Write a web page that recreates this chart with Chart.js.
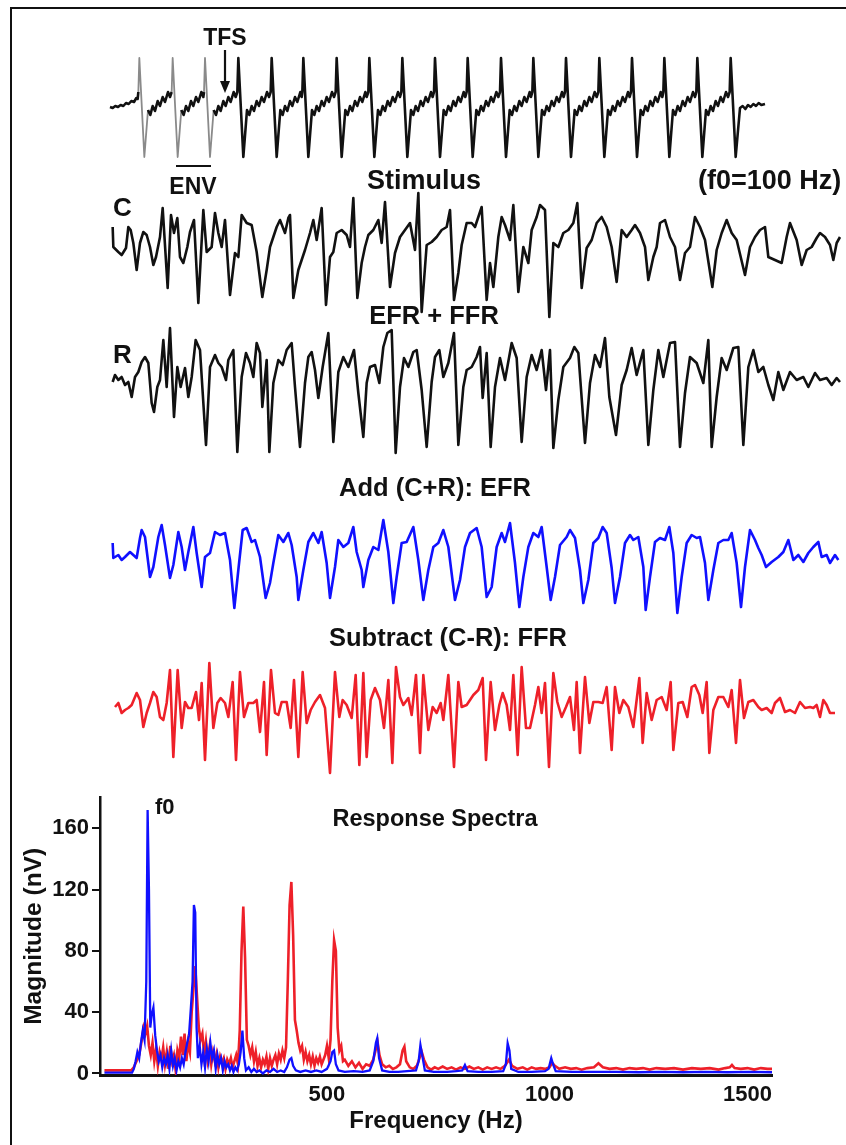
<!DOCTYPE html>
<html>
<head>
<meta charset="utf-8">
<title>Stimulus, responses and response spectra</title>
<script src="https://cdn.jsdelivr.net/npm/chart.js@4.4.1/dist/chart.umd.min.js"></script>
<style>
  html, body { margin: 0; padding: 0; background: #fff; }
  #page { position: relative; width: 846px; height: 1145px; overflow: hidden;
          font-family: "Liberation Sans", Arial, sans-serif; font-weight: bold; color: #111; }
  #frame { position: absolute; left: 10px; top: 7px; width: 900px; height: 1200px;
           border-left: 2px solid #111; border-top: 2px solid #111; }
  canvas { position: absolute; }
  .lbl { position: absolute; line-height: 1; white-space: nowrap; }
  .ctr { transform: translateX(-50%); }
</style>
</head>
<body>
<div id="page">
  <div id="frame"></div>

  <canvas id="stim" width="760" height="170" style="left:90px;top:19px"></canvas>
  <canvas id="cond" width="760" height="170" style="left:90px;top:155px"></canvas>
  <canvas id="rare" width="760" height="170" style="left:90px;top:293px"></canvas>
  <canvas id="efr" width="760" height="170" style="left:90px;top:465px"></canvas>
  <canvas id="ffr" width="760" height="170" style="left:90px;top:623px"></canvas>
  <canvas id="spectra" width="846" height="365" style="left:0;top:780px"></canvas>

  <svg style="position:absolute;left:0;top:0" width="846" height="220">
    <line x1="225" y1="50" x2="225" y2="84" stroke="#111" stroke-width="2.2"/>
    <polygon points="220,81 230,81 225,93" fill="#111"/>
    <line x1="176" y1="166" x2="211" y2="166" stroke="#111" stroke-width="2.2"/>
  </svg>

  <div class="lbl ctr" style="left:225px;top:26px;font-size:23px">TFS</div>
  <div class="lbl ctr" style="left:193px;top:175px;font-size:23px">ENV</div>
  <div class="lbl ctr" style="left:424px;top:167px;font-size:27px">Stimulus</div>
  <div class="lbl" style="left:698px;top:167px;font-size:27px">(f0=100 Hz)</div>
  <div class="lbl" style="left:113px;top:194px;font-size:26px">C</div>
  <div class="lbl ctr" style="left:434px;top:303px;font-size:25.5px">EFR + FFR</div>
  <div class="lbl" style="left:113px;top:341px;font-size:26px">R</div>
  <div class="lbl ctr" style="left:435px;top:475px;font-size:25.5px">Add (C+R): EFR</div>
  <div class="lbl ctr" style="left:448px;top:625px;font-size:25.5px">Subtract (C-R): FFR</div>
  <div class="lbl" style="left:155px;top:796px;font-size:22px">f0</div>
  <div class="lbl ctr" style="left:435px;top:807px;font-size:23.5px">Response Spectra</div>
</div>

<script>
// time in ms, amplitude in arbitrary units (positive up)
var stimulusWave = [
  [0,-0.3],[0.8,-0.4],[1.6,-0.2],[2.4,-0.3],[3.2,-0.1],[4.0,-0.2],[4.8,0.1],[5.6,0.0],[6.4,0.3],[7.2,0.2],[7.9,0.6],[8.3,0.5],
  [8.5,1.2],[8.8,4.6],[10.3,-5.3],[11.4,-0.6],[12.1,-1.1],[12.8,-0.2],[13.5,-0.7],[14.3,0.3],[15.0,-0.2],[15.8,0.7],[16.5,0.2],[17.4,1.2],[18.0,0.7],
  [18.5,1.2],[18.8,4.6],[20.3,-5.3],[21.4,-0.6],[22.1,-1.1],[22.8,-0.2],[23.5,-0.7],[24.3,0.3],[25.0,-0.2],[25.8,0.7],[26.5,0.2],[27.4,1.2],[28.0,0.7],
  [28.2,1.2],[28.5,4.6],[30.0,-5.3],[31.1,-0.6],[31.8,-1.1],[32.5,-0.2],[33.2,-0.7],[34.0,0.3],[34.7,-0.2],[35.5,0.7],[36.2,0.2],[37.1,1.2],[37.7,0.7],
  [38.2,1.2],[38.5,4.6],[40.0,-5.3],[41.1,-0.6],[41.8,-1.1],[42.5,-0.2],[43.2,-0.7],[44.0,0.3],[44.7,-0.2],[45.5,0.7],[46.2,0.2],[47.1,1.2],[47.7,0.7],
  [48.2,1.2],[48.5,4.6],[50.0,-5.3],[51.1,-0.6],[51.8,-1.1],[52.5,-0.2],[53.2,-0.7],[54.0,0.3],[54.7,-0.2],[55.5,0.7],[56.2,0.2],[57.1,1.2],[57.5,0.7],
  [57.7,1.2],[58.0,4.6],[59.5,-5.3],[60.6,-0.6],[61.3,-1.1],[62.0,-0.2],[62.7,-0.7],[63.5,0.3],[64.2,-0.2],[65.0,0.7],[65.7,0.2],[66.6,1.2],[67.2,0.7],
  [67.7,1.2],[68.0,4.6],[69.5,-5.3],[70.6,-0.6],[71.3,-1.1],[72.0,-0.2],[72.7,-0.7],[73.5,0.3],[74.2,-0.2],[75.0,0.7],[75.7,0.2],[76.6,1.2],[77.0,0.7],
  [77.5,1.2],[77.8,4.6],[79.3,-5.3],[80.4,-0.6],[81.1,-1.1],[81.8,-0.2],[82.5,-0.7],[83.3,0.3],[84.0,-0.2],[84.8,0.7],[85.5,0.2],[86.4,1.2],[87.0,0.7],
  [87.4,1.2],[87.7,4.6],[89.2,-5.3],[90.3,-0.6],[91.0,-1.1],[91.7,-0.2],[92.4,-0.7],[93.2,0.3],[93.9,-0.2],[94.7,0.7],[95.4,0.2],[96.3,1.2],[96.8,0.7],
  [97.2,1.2],[97.5,4.6],[99.0,-5.3],[100.1,-0.6],[100.8,-1.1],[101.5,-0.2],[102.2,-0.7],[103.0,0.3],[103.7,-0.2],[104.5,0.7],[105.2,0.2],[106.1,1.2],[106.6,0.7],
  [107.0,1.2],[107.3,4.6],[108.8,-5.3],[109.9,-0.6],[110.6,-1.1],[111.3,-0.2],[112.0,-0.7],[112.8,0.3],[113.5,-0.2],[114.3,0.7],[115.0,0.2],[115.9,1.2],[116.5,0.7],
  [117.0,1.2],[117.3,4.6],[118.8,-5.3],[119.9,-0.6],[120.6,-1.1],[121.3,-0.2],[122.0,-0.7],[122.8,0.3],[123.5,-0.2],[124.3,0.7],[125.0,0.2],[125.9,1.2],[126.3,0.7],
  [126.7,1.2],[127.0,4.6],[128.5,-5.3],[129.6,-0.6],[130.3,-1.1],[131.0,-0.2],[131.7,-0.7],[132.5,0.3],[133.2,-0.2],[134.0,0.7],[134.7,0.2],[135.6,1.2],[136.1,0.7],
  [136.5,1.2],[136.8,4.6],[138.3,-5.3],[139.4,-0.6],[140.1,-1.1],[140.8,-0.2],[141.5,-0.7],[142.3,0.3],[143.0,-0.2],[143.8,0.7],[144.5,0.2],[145.4,1.2],[146.0,0.7],
  [146.5,1.2],[146.8,4.6],[148.3,-5.3],[149.4,-0.6],[150.1,-1.1],[150.8,-0.2],[151.5,-0.7],[152.3,0.3],[153.0,-0.2],[153.8,0.7],[154.5,0.2],[155.4,1.2],[155.9,0.7],
  [156.3,1.2],[156.6,4.6],[158.1,-5.3],[159.2,-0.6],[159.9,-1.1],[160.6,-0.2],[161.3,-0.7],[162.1,0.3],[162.8,-0.2],[163.6,0.7],[164.3,0.2],[165.2,1.2],[165.7,0.7],
  [166.0,1.2],[166.3,4.6],[167.8,-5.3],[168.9,-0.6],[169.6,-1.1],[170.3,-0.2],[171.0,-0.7],[171.8,0.3],[172.5,-0.2],[173.3,0.7],[174.0,0.2],[174.9,1.2],[175.5,0.7],
  [175.9,1.2],[176.2,4.6],[177.7,-5.3],[178.8,-0.6],[179.5,-1.1],[180.2,-0.2],[180.9,-0.7],[181.7,0.3],[182.4,-0.2],[183.2,0.7],[183.9,0.2],[184.8,1.2],[185.4,0.7],
  [185.9,1.2],[186.2,4.6],[187.7,-5.3],[189.0,-0.4],[189.8,-0.2],[190.6,-0.5],[191.4,-0.1],[192.2,-0.3],[193.0,0.0],[193.8,-0.2],[194.6,0.1],[195.4,-0.1],[196.5,0.0]
];

// condensation polarity response (C)
var condensationWave = [
  [0.8,1.3],[1.0,-0.7],[2.5,-1.2],[3.5,-1.5],[4.8,-0.8],[5.5,1.3],[6.2,1.0],[7.0,-0.3],[8.0,-3.0],[9.0,-0.3],[10.0,0.8],[11.0,0.5],
  [12.0,-0.7],[13.0,-2.5],[13.8,-1.7],[15.0,0.3],[15.8,3.2],[17.3,-4.8],[18.3,2.5],[19.2,0.7],[20.2,2.2],[21.0,-1.7],[22.0,-2.3],
  [23.2,-0.7],[24.0,0.8],[25.2,2.0],[26.5,-6.3],[28.0,3.0],[29.0,-1.2],[30.5,-0.7],[31.5,2.7],[32.5,0.7],[33.5,-0.7],[34.5,2.0],
  [36.0,-5.5],[37.5,-1.3],[38.5,-1.7],[39.5,2.5],[41.0,1.7],[42.5,1.5],[44.0,-1.2],[45.7,-5.7],[47.0,-3.0],[48.0,-0.7],[49.0,0.3],
  [50.0,1.3],[51.0,2.0],[52.5,0.7],[53.5,2.2],[54.0,2.5],[55.0,-5.8],[56.5,-3.0],[57.5,-2.0],[58.5,-1.0],[60.0,0.7],[61.0,2.0],
  [62.0,0.0],[63.5,3.2],[64.8,-6.5],[66.0,-1.7],[67.0,-1.2],[68.0,0.7],[69.5,1.0],[71.0,0.5],[72.0,-0.7],[73.0,4.2],[74.2,-5.8],
  [75.5,-2.3],[76.5,-0.7],[77.5,0.5],[79.0,1.0],[80.5,2.0],[81.5,-0.3],[82.5,3.8],[84.0,-4.7],[85.5,-1.3],[87.0,0.3],[88.5,1.0],
  [90.0,1.7],[91.5,-1.0],[92.5,4.7],[93.5,-7.2],[95.0,-0.5],[96.5,-0.2],[98.0,0.3],[99.5,1.0],[101.0,1.3],[102.0,3.0],[103.2,-6.0],
  [104.5,-3.3],[105.5,-0.5],[107.0,1.7],[108.5,1.7],[109.5,1.3],[110.5,2.3],[111.5,3.3],[113.0,-6.0],[114.0,-2.3],[115.0,-4.7],
  [116.5,0.3],[117.5,2.3],[118.5,1.5],[120.0,0.0],[121.0,3.5],[122.5,-5.2],[124.0,-0.7],[125.5,-2.3],[126.5,1.0],[128.0,2.3],
  [129.0,3.5],[130.5,3.0],[131.8,-7.7],[133.0,-0.3],[134.5,-0.7],[136.0,0.7],[137.5,1.0],[139.0,1.7],[140.2,3.7],[141.5,-4.8],
  [143.0,-0.8],[144.5,0.0],[146.0,1.7],[147.5,2.3],[149.0,1.3],[150.5,-0.7],[152.0,-4.2],[153.5,1.0],[155.0,0.3],[156.5,1.0],
  [157.5,1.5],[159.0,0.7],[160.5,-0.7],[161.5,-4.0],[163.0,-1.7],[164.0,-0.7],[165.0,1.7],[166.5,2.0],[168.0,0.3],[169.5,-0.7],
  [171.0,-4.0],[172.5,-1.3],[174.0,-0.7],[175.5,2.3],[177.0,1.3],[178.5,0.0],[180.7,-4.7],[182.0,-1.0],[183.5,0.7],[185.0,2.0],
  [186.5,0.7],[188.0,0.0],[190.5,-3.5],[192.0,-0.7],[193.5,0.3],[195.0,1.0],[196.5,1.3],[197.5,-1.7],[199.5,-2.0],[201.5,-2.3],
  [203.0,0.3],[204.0,1.7],[206.0,0.0],[207.5,-2.5],[209.0,-1.0],[210.5,-0.7],[212.0,0.2],[213.0,0.7],[214.5,0.3],[216.0,-0.5],
  [217.0,-2.0],[218.0,-0.3],[219.0,0.3],[219.5,-0.7]
];

// rarefaction polarity response (R)
var rarefactionWave = [
  [0.8,-0.4],[1.5,0.3],[2.5,-0.2],[3.5,0.1],[4.5,-0.7],[5.5,-0.4],[6.5,-1.9],[7.5,0.1],[8.5,0.6],[9.5,1.6],[10.5,2.1],[11.5,1.5],
  [12.5,-2.5],[13.2,-3.4],[14.2,-0.9],[15.0,-0.2],[16.0,3.8],[17.0,-0.9],[18.0,5.0],[19.2,-3.9],[20.2,1.1],[21.2,-0.9],[22.5,1.0],
  [23.5,-1.9],[24.5,0.1],[25.7,3.8],[27.0,2.8],[28.8,-6.7],[30.0,1.1],[31.5,2.3],[32.5,1.5],[33.5,1.1],[34.8,-0.2],[35.5,1.8],
  [37.0,2.8],[38.2,-7.4],[39.5,0.1],[40.8,2.5],[42.0,1.5],[43.0,0.1],[44.0,3.5],[45.0,2.5],[45.7,-2.9],[47.0,1.8],[47.8,-7.4],
  [49.0,-0.5],[50.5,1.8],[51.8,1.3],[53.0,2.8],[54.5,3.5],[55.5,-0.9],[57.0,-6.9],[58.5,-0.5],[59.5,2.1],[60.5,2.6],[61.5,0.8],
  [62.5,-2.0],[63.8,1.1],[65.5,4.5],[67.0,-6.4],[68.5,0.6],[70.0,2.1],[71.5,1.1],[73.2,2.8],[74.5,-1.5],[76.0,-5.9],[77.0,-0.5],
  [78.0,1.1],[79.5,1.3],[80.8,-0.5],[82.0,3.1],[83.2,4.5],[84.5,4.8],[85.7,-7.5],[87.0,-0.9],[88.2,2.0],[89.5,1.1],[91.0,2.6],
  [92.0,2.8],[93.5,-1.2],[95.0,-6.9],[96.5,-0.4],[97.5,2.1],[98.8,2.8],[100.0,0.1],[101.5,1.5],[103.2,4.5],[104.5,-6.7],[106.0,-0.9],
  [107.0,0.8],[108.5,1.1],[110.0,2.1],[111.0,3.1],[111.8,-2.0],[113.0,2.5],[114.2,-6.9],[115.5,-0.9],[117.0,2.0],[118.5,-0.2],
  [120.5,3.5],[122.0,2.0],[123.5,-6.4],[125.0,0.1],[126.5,2.3],[128.0,0.8],[129.5,2.8],[130.8,-1.2],[132.0,2.8],[133.0,-7.0],
  [134.5,-2.2],[136.0,1.1],[138.0,2.0],[139.3,3.1],[140.5,2.5],[142.5,-6.5],[144.0,-0.5],[145.5,2.3],[147.0,1.1],[148.5,4.0],
  [149.8,-1.9],[151.8,-5.7],[153.5,-0.7],[155.0,0.8],[156.5,3.0],[158.0,0.3],[160.0,2.8],[161.5,-6.7],[163.0,-1.2],[164.5,2.8],
  [166.0,0.1],[168.0,3.5],[169.5,3.6],[171.0,-6.9],[172.5,-1.5],[174.0,2.1],[176.0,1.5],[178.0,-0.5],[179.5,3.8],[180.5,-6.9],
  [182.0,-1.9],[183.5,2.0],[185.0,0.8],[187.0,3.0],[188.5,3.1],[190.0,-6.7],[191.5,1.1],[193.0,2.8],[194.5,0.6],[196.0,1.1],
  [197.5,-0.7],[199.0,-2.2],[200.5,0.6],[202.0,-1.2],[204.0,0.6],[206.0,-0.2],[208.0,0.1],[209.5,-0.9],[211.5,0.5],[213.0,-0.2],
  [215.0,0.0],[216.5,-0.7],[218.0,0.0],[219.0,-0.4]
];

// C+R average: envelope following response
var efrWave = [
  [0.8,0.7],[1.0,-0.8],[2.5,-0.5],[3.5,-1.0],[4.5,-0.7],[6.0,-0.2],[7.0,-0.5],[8.0,-0.8],[9.0,1.2],[9.5,2.0],[10.5,1.3],[12.0,-2.7],
  [13.0,-1.7],[14.5,1.3],[15.5,2.5],[16.5,0.5],[18.0,-2.8],[19.0,-1.5],[20.5,1.8],[21.5,0.3],[22.5,-2.0],[23.5,-0.2],[25.0,2.3],
  [26.0,-0.3],[27.5,-3.7],[28.5,-0.7],[30.0,-0.3],[31.5,1.8],[33.0,1.5],[34.5,1.7],[36.0,-1.0],[37.3,-5.8],[38.5,-2.0],[39.8,2.0],
  [41.0,2.2],[42.5,0.8],[43.5,1.0],[45.0,-0.7],[46.7,-4.8],[48.0,-3.3],[49.0,-1.3],[50.5,1.5],[52.0,0.8],[53.5,1.7],[54.5,0.5],
  [56.0,-2.7],[56.5,-5.0],[58.0,-2.0],[59.5,0.8],[61.0,1.7],[62.5,0.7],[63.5,1.8],[65.0,-1.3],[66.0,-4.8],[67.5,-1.7],[68.5,1.0],
  [70.0,0.3],[71.5,0.7],[73.0,2.3],[74.0,-0.2],[75.5,-2.0],[76.0,-3.7],[77.5,-1.0],[79.0,0.3],[80.5,0.0],[82.0,3.0],[83.5,-0.2],
  [85.0,-5.3],[86.0,-2.7],[87.5,0.7],[89.0,0.8],[91.0,2.3],[92.5,-1.0],[94.0,-5.0],[95.5,-2.0],[97.0,0.3],[98.5,0.7],[100.0,2.0],
  [101.5,0.3],[103.5,-5.0],[105.0,-3.0],[106.5,0.3],[108.0,1.7],[110.0,2.2],[111.5,0.3],[113.0,-4.7],[114.5,-3.7],[116.0,0.3],
  [117.5,1.7],[118.5,0.8],[120.0,2.7],[121.5,-1.3],[122.8,-5.7],[124.0,-2.7],[125.5,0.3],[127.0,1.7],[128.5,1.3],[129.5,2.3],
  [131.0,-1.7],[132.2,-5.0],[133.5,-2.7],[135.0,0.5],[137.0,1.3],[138.0,2.0],[139.5,1.2],[141.0,-2.0],[142.0,-5.3],[143.5,-3.0],
  [145.0,0.7],[146.5,1.2],[147.8,2.3],[149.0,1.7],[150.5,-1.8],[151.5,-5.3],[153.0,-2.7],[154.5,0.7],[156.0,1.5],[157.0,1.0],
  [158.5,1.3],[160.0,-1.7],[160.7,-6.0],[162.0,-2.7],[163.5,0.8],[165.0,1.2],[166.5,1.0],[167.8,2.3],[169.0,-0.3],[170.2,-6.3],
  [171.5,-2.7],[173.0,0.7],[174.5,1.5],[176.0,1.2],[177.0,1.3],[178.5,-1.3],[179.5,-5.0],[181.0,-2.0],[182.5,0.7],[184.0,1.0],
  [185.5,1.0],[186.5,1.7],[188.0,-1.3],[189.3,-5.7],[190.5,-1.7],[192.0,2.0],[193.5,1.0],[194.5,0.2],[195.5,-0.5],[196.8,-1.7],
  [198.5,-1.2],[200.5,-0.7],[202.0,-0.2],[203.5,1.0],[205.0,-1.0],[206.5,-0.5],[208.0,-1.2],[209.5,-0.3],[211.0,0.3],[212.5,0.8],
  [213.5,-0.7],[215.0,-0.5],[216.0,-1.3],[217.5,-0.5],[218.5,-1.0]
];

// C-R difference: frequency following response
var ffrWave = [
  [1.5,0.1],[2.5,0.5],[3.5,-0.5],[4.5,-0.2],[5.5,0.0],[6.5,0.3],[8.0,1.5],[9.0,0.8],[10.0,-1.9],[11.0,-0.5],[12.0,0.5],[13.0,1.6],
  [14.0,1.1],[15.0,-0.9],[16.0,-1.2],[17.0,0.5],[18.0,3.8],[19.0,-4.9],[20.3,3.8],[21.5,-2.0],[22.5,0.6],[23.5,0.0],[24.5,0.0],
  [25.8,1.6],[26.7,-1.2],[27.5,2.5],[28.5,-5.2],[29.8,4.5],[31.0,-2.0],[32.2,0.5],[33.2,1.0],[34.5,0.5],[35.5,-0.9],[36.8,2.6],
  [37.8,-5.2],[39.0,3.6],[40.2,-0.9],[41.5,0.5],[43.0,0.5],[44.0,0.8],[45.0,-2.4],[46.2,2.6],[47.0,-4.7],[48.3,3.8],[49.5,-0.5],
  [50.5,-0.7],[51.5,0.6],[53.0,0.6],[54.2,-2.0],[55.2,2.8],[56.5,-4.9],[57.8,3.6],[59.0,-1.5],[60.2,-0.2],[61.5,0.6],[63.0,1.3],
  [64.5,0.0],[66.0,-6.5],[67.5,3.6],[68.8,-0.9],[69.8,0.8],[71.0,0.3],[72.5,-1.0],[73.7,3.3],[74.8,-5.7],[76.0,3.5],[77.0,-4.9],
  [78.2,0.8],[79.5,2.0],[81.0,0.8],[82.2,-2.0],[83.5,2.8],[84.7,-5.5],[85.8,4.1],[87.0,1.1],[88.0,0.3],[89.5,1.0],[90.5,-0.7],
  [91.8,3.3],[93.0,-4.5],[94.0,3.3],[95.5,-2.2],[96.8,0.1],[98.0,-0.5],[99.2,0.5],[100.0,-1.2],[101.5,3.3],[103.2,-5.9],[104.5,2.6],
  [105.5,0.1],[107.0,0.3],[109.0,1.3],[110.5,1.8],[111.8,3.0],[112.8,-5.2],[114.2,2.6],[115.5,-2.2],[116.8,0.3],[117.8,1.5],
  [119.0,0.3],[120.0,-2.2],[121.0,3.3],[122.3,-4.7],[123.5,4.1],[124.8,-2.0],[126.0,-2.0],[127.5,0.3],[128.5,2.1],[129.5,-0.5],
  [130.5,2.5],[131.7,-5.9],[133.0,3.5],[134.2,0.6],[135.5,-0.9],[136.8,0.1],[138.0,1.1],[139.2,-2.2],[140.0,2.6],[141.0,-4.5],
  [142.5,3.1],[143.8,-1.5],[145.0,0.6],[146.5,0.6],[147.8,0.5],[149.0,2.1],[150.5,-4.2],[151.5,2.1],[152.8,-0.5],[154.0,0.8],
  [155.5,0.1],[157.0,-1.9],[158.8,3.0],[159.8,-3.5],[161.0,1.5],[162.5,-1.2],[164.0,0.8],[165.5,1.1],[167.0,-0.2],[168.2,2.6],
  [169.0,-4.2],[170.5,0.5],[171.8,0.6],[173.2,-0.9],[174.5,2.1],[175.5,2.3],[176.8,1.3],[177.8,-0.5],[179.0,2.6],[179.8,-4.5],
  [181.0,-0.2],[182.5,1.1],[184.0,1.1],[185.5,0.1],[186.5,1.8],[187.8,-3.5],[189.0,2.8],[190.2,-1.0],[191.5,0.6],[193.0,0.8],
  [194.5,0.1],[195.5,-0.2],[197.0,0.0],[198.5,-0.5],[199.5,0.5],[201.0,1.0],[202.5,-0.4],[204.0,-0.2],[205.5,-0.5],[207.0,0.6],
  [208.5,0.0],[210.0,0.1],[211.0,0.0],[212.0,0.3],[213.0,-0.9],[214.0,0.8],[215.0,0.3],[216.0,-0.5],[217.5,-0.5]
];

// spectra: [frequency Hz, magnitude nV]
var efrSpectrum = [
  [0,0.5],[62,0.5],[66,3],[70,8],[74,14],[78,10],[82,20],[86,28],[90,22],[94,60],[97,172],[100,120],[103,30],[106,38],[110,43],
  [114,25],[118,15],[122,8],[126,12],[130,4],[134,10],[138,6],[142,12],[146,3],[150,15],[154,5],[158,10],[162,2],[166,8],[170,4],
  [174,10],[178,6],[182,14],[186,20],[190,25],[194,42],[198,60],[201,110],[204,105],[207,30],[210,10],[214,18],[218,6],[222,14],
  [226,4],[230,16],[234,8],[238,20],[242,10],[246,15],[250,3],[254,12],[258,6],[262,10],[266,2],[270,8],[274,4],[278,6],[282,2],
  [286,5],[290,1],[294,4],[298,2],[302,6],[306,14],[310,28],[314,10],[318,2],[324,4],[330,1],[336,3],[342,1],[348,2],[356,0],
  [364,2],[372,1],[380,3],[388,1],[396,2],[404,1],[410,4],[416,9],[420,10],[424,5],[430,2],[440,1],[452,2],[464,1],[476,2],
  [488,1],[500,3],[508,8],[512,14],[516,15],[520,6],[526,2],[540,1],[560,1.5],[580,1],[596,2],[604,8],[610,20],[613,23],[617,10],
  [624,2],[640,1],[660,1],[680,1.5],[700,2],[706,8],[710,18.6],[714,12],[720,2],[740,1],[770,1],[790,1.5],[804,2],[810,5.5],
  [816,1.5],[840,1],[870,1],[896,1.5],[902,6],[906,19.7],[910,15],[914,3],[930,1],[960,1],[990,1.5],[998,3],[1004,10],[1008,6],
  [1014,1.5],[1050,1],[1100,1],[1150,1],[1200,0.8],[1250,1],[1300,0.8],[1350,1],[1400,0.8],[1450,1],[1500,0.8]
];

var ffrSpectrum = [
  [0,2],[60,2],[66,4],[72,8],[78,12],[84,22],[88,30],[92,26],[96,31],[100,18],[104,12],[108,20],[112,8],[116,16],[120,5],
  [124,14],[128,9],[132,17],[136,6],[140,14],[144,3],[148,18],[152,8],[156,12],[160,2],[164,15],[168,10],[172,24],[176,12],
  [180,26],[184,8],[188,20],[192,14],[196,40],[200,55],[204,70],[208,50],[212,30],[216,22],[220,26],[224,12],[228,21],[232,9],
  [236,17],[240,6],[244,14],[248,8],[252,13],[256,4],[260,11],[264,7],[268,10],[272,3],[276,9],[280,6],[284,10],[288,4],[292,8],
  [296,12],[300,6],[304,28],[308,80],[312,109],[316,75],[320,22],[324,18],[328,12],[332,17],[336,8],[340,14],[344,5],[348,10],
  [352,4],[356,9],[360,6],[364,11],[368,3],[372,10],[376,5],[380,9],[384,12],[388,6],[392,13],[396,9],[400,15],[404,10],[408,17],
  [412,60],[416,110],[420,125],[424,90],[428,35],[432,28],[436,20],[440,15],[444,18],[448,9],[452,14],[456,8],[460,12],[464,6],
  [468,11],[472,5],[476,10],[480,7],[484,11],[488,6],[492,9],[496,12],[500,18],[504,10],[508,22],[512,60],[516,87],[520,80],
  [524,30],[528,15],[532,18],[536,8],[540,9],[548,5],[556,8],[564,4],[572,7],[580,3],[588,6],[596,5],[604,9],[610,16],[614,20],
  [618,12],[624,6],[632,4],[640,5],[648,3],[656,4],[664,6],[670,15],[674,17.5],[678,8],[686,4],[694,3],[702,5],[708,10],[713,14],
  [718,9],[726,4],[734,2.5],[742,4],[750,3],[760,4.5],[770,3],[780,4],[790,2.5],[800,4],[810,3],[820,4.5],[830,3],[840,4],
  [850,2.5],[860,4],[870,3],[880,4],[890,3],[900,5],[909,9],[916,5],[928,3],[940,4],[950,2.5],[960,4],[970,3],[980,3.5],[990,3],
  [1000,4],[1006,7],[1012,5],[1022,3],[1035,4],[1048,3],[1060,3.5],[1072,2.5],[1085,3.5],[1100,4],[1110,6.6],[1120,4],[1135,3],
  [1150,3.5],[1165,2.5],[1180,3.5],[1195,3],[1210,3.5],[1225,2.5],[1240,3.5],[1260,3],[1280,3.5],[1300,2.5],[1320,3.5],[1340,3],
  [1360,3.5],[1380,2.5],[1395,3.5],[1405,4],[1410,5.5],[1416,3.5],[1430,3],[1445,3.5],[1460,2.5],[1475,3.5],[1490,3],[1500,3]
];

var magnitudeTicks = [0, 40, 80, 120, 160];
var frequencyTicks = [500, 1000, 1500];

var FONT = 'Liberation Sans, Arial, sans-serif';
var INK = '#111';

function toXY(pairs) {
    return pairs.map(function(p) { return {x: p[0], y: p[1]}; });
}

// one waveform per canvas, all sharing the same time window
function traceChart(id, wave, color, segment) {
    var ds = {
        data: toXY(wave),
        borderColor: color,
        borderWidth: 2.6,
        borderJoinStyle: 'round',
        pointRadius: 0,
        tension: 0,
        clip: false
    };
    if (segment) {
        ds.segment = segment;
    }
    return new Chart(document.getElementById(id), {
        type: 'line',
        data: { datasets: [ds] },
        options: {
            responsive: false,
            animation: false,
            events: [],
            layout: { padding: {left: 10, right: 10, top: 5, bottom: 5} },
            plugins: { legend: {display: false}, tooltip: {enabled: false} },
            scales: {
                x: { type: 'linear', display: false, min: -3, max: 219 },
                y: { display: false, min: -8, max: 8 }
            }
        }
    });
}

// first few stimulus spikes are printed lighter
traceChart('stim', stimulusWave, INK, {
    borderColor: function(ctx) {
        var big = Math.abs(ctx.p1.parsed.y - ctx.p0.parsed.y) > 3;
        return (ctx.p0.parsed.x < 36 && big) ? '#8a8a8a' : undefined;
    },
    borderWidth: function(ctx) {
        var big = Math.abs(ctx.p1.parsed.y - ctx.p0.parsed.y) > 3;
        return (ctx.p0.parsed.x < 36 && big) ? 1.8 : undefined;
    }
});
traceChart('cond', condensationWave, INK);
traceChart('rare', rarefactionWave, INK);
traceChart('efr', efrWave, '#1010ff');
traceChart('ffr', ffrWave, '#ee2029');

var spectra = new Chart(document.getElementById('spectra'), {
    type: 'line',
    data: {
        datasets: [
            {
                label: 'EFR',
                data: toXY(efrSpectrum),
                borderColor: '#1010ff',
                borderWidth: 2.3,
                pointRadius: 0,
                tension: 0
            },
            {
                label: 'FFR',
                data: toXY(ffrSpectrum),
                borderColor: '#ee2029',
                borderWidth: 2.6,
                pointRadius: 0,
                tension: 0
            }
        ]
    },
    options: {
        responsive: false,
        animation: false,
        events: [],
        layout: { padding: {left: 0, right: 74, top: 17.7, bottom: 0} },
        plugins: { legend: {display: false}, tooltip: {enabled: false} },
        scales: {
            x: {
                type: 'linear',
                min: -10,
                max: 1500,
                afterFit: function(s) { s.height = 70; },
                afterBuildTicks: function(s) {
                    s.ticks = [{value: -10}].concat(frequencyTicks.map(function(v) { return {value: v}; }));
                },
                grid: { display: false, drawTicks: false },
                border: { display: true, color: INK, width: 3 },
                ticks: {
                    align: 'inner',
                    autoSkip: false,
                    maxRotation: 0,
                    padding: 7,
                    color: INK,
                    font: { family: FONT, size: 22, weight: 'bold' },
                    callback: function(v) { return frequencyTicks.indexOf(v) >= 0 ? String(v) : ''; }
                },
                title: {
                    display: true,
                    text: 'Frequency (Hz)',
                    color: INK,
                    font: { family: FONT, size: 24, weight: 'bold' },
                    padding: { top: 0, bottom: 9 }
                }
            },
            y: {
                min: -1,
                max: 180,
                afterFit: function(s) { s.width = 100; },
                afterBuildTicks: function(s) {
                    s.ticks = magnitudeTicks.map(function(v) { return {value: v}; });
                },
                grid: { drawOnChartArea: false, drawTicks: true, tickLength: 8, color: INK, lineWidth: 2 },
                border: { display: true, color: INK, width: 2.5 },
                ticks: {
                    padding: 3,
                    color: INK,
                    font: { family: FONT, size: 22, weight: 'bold' },
                    callback: function(v) { return String(v); }
                },
                title: {
                    display: true,
                    text: 'Magnitude (nV)',
                    color: INK,
                    font: { family: FONT, size: 24.5, weight: 'bold' },
                    padding: { top: 20, bottom: 0 }
                }
            }
        }
    }
});
</script>
</body>
</html>
